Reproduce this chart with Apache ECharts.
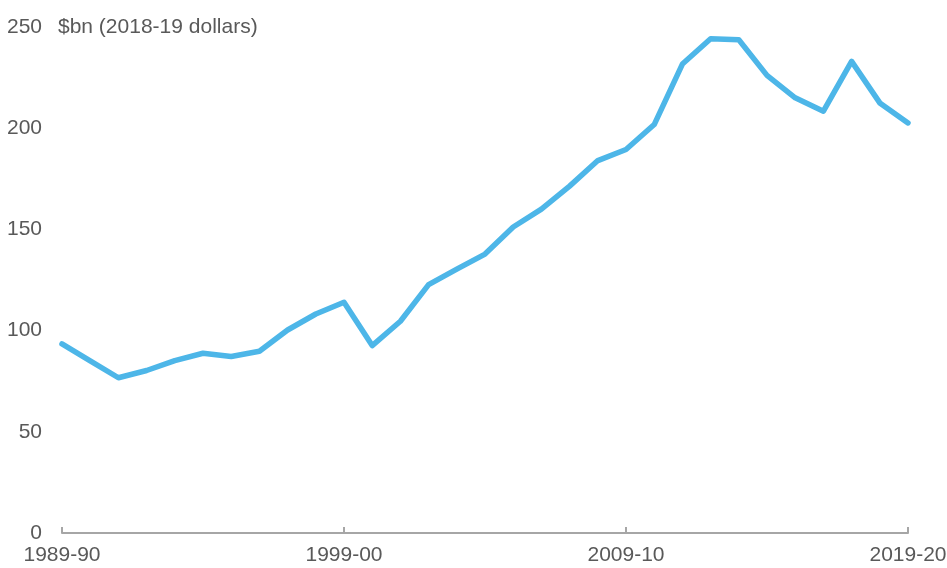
<!DOCTYPE html>
<html>
<head>
<meta charset="utf-8">
<script src="https://cdn.jsdelivr.net/npm/echarts@6/dist/echarts.min.js"></script>
<style>
  html, body { margin: 0; padding: 0; background: #ffffff; }
  #chart { width: 947px; height: 568px; }
</style>
</head>
<body>
<div id="chart"></div>
<script>
// Financial years shown on the category axis
const years = [
  '1989-90', '1990-91', '1991-92', '1992-93', '1993-94', '1994-95', '1995-96',
  '1996-97', '1997-98', '1998-99', '1999-00', '2000-01', '2001-02', '2002-03',
  '2003-04', '2004-05', '2005-06', '2006-07', '2007-08', '2008-09', '2009-10',
  '2010-11', '2011-12', '2012-13', '2013-14', '2014-15', '2015-16', '2016-17',
  '2017-18', '2018-19', '2019-20'
];

// Real value, $bn in 2018-19 dollars
const values = [
  93.4, 85.0, 76.7, 80.3, 85.2, 88.8, 87.2, 89.8, 100.3, 108.2, 114.0,
  92.6, 104.6, 122.7, 130.4, 137.8, 151.2, 160.0, 171.4, 184.0, 189.5,
  201.8, 231.7, 244.2, 243.7, 226.1, 215.0, 208.4, 233.0, 212.5, 202.6
];

// Labelled years on the x axis
const shownYears = ['1989-90', '1999-00', '2009-10', '2019-20'];

const unitLabel = '$bn (2018-19 dollars)';

const textColor = '#595959';
const fontFamily = 'Liberation Sans, Arial, sans-serif';
const fontSize = 21;

const chart = echarts.init(document.getElementById('chart'), null, { renderer: 'canvas' });

chart.setOption({
  animation: false,
  backgroundColor: '#ffffff',
  grid: {
    left: 62, right: 39, top: 27, bottom: 35,
    containLabel: false,
    outerBoundsMode: 'none'
  },
  graphic: [{
    type: 'text',
    x: 58,
    y: 27,
    style: {
      text: unitLabel,
      fill: textColor,
      font: fontSize + 'px ' + fontFamily,
      verticalAlign: 'middle',
      textVerticalAlign: 'middle'
    }
  }],
  xAxis: {
    type: 'category',
    data: years,
    boundaryGap: false,
    axisLine: { show: true, lineStyle: { color: '#a6a6a6', width: 2 } },
    axisTick: {
      show: true,
      inside: true,
      length: 6,
      lineStyle: { color: '#a6a6a6', width: 2 },
      interval: (i, v) => shownYears.includes(v)
    },
    axisLabel: {
      color: textColor,
      fontSize: fontSize,
      fontFamily: fontFamily,
      margin: 12,
      interval: (i, v) => shownYears.includes(v)
    },
    splitLine: { show: false }
  },
  yAxis: {
    type: 'value',
    min: 0,
    max: 250,
    interval: 50,
    axisLine: { show: false },
    axisTick: { show: false },
    splitLine: { show: false },
    axisLabel: { color: textColor, fontSize: fontSize, fontFamily: fontFamily, margin: 20 }
  },
  series: [{
    type: 'line',
    data: values,
    symbol: 'none',
    lineStyle: { color: '#4db6e8', width: 5.5, join: 'round', cap: 'round' },
    itemStyle: { color: '#4db6e8' }
  }]
});
</script>
</body>
</html>
